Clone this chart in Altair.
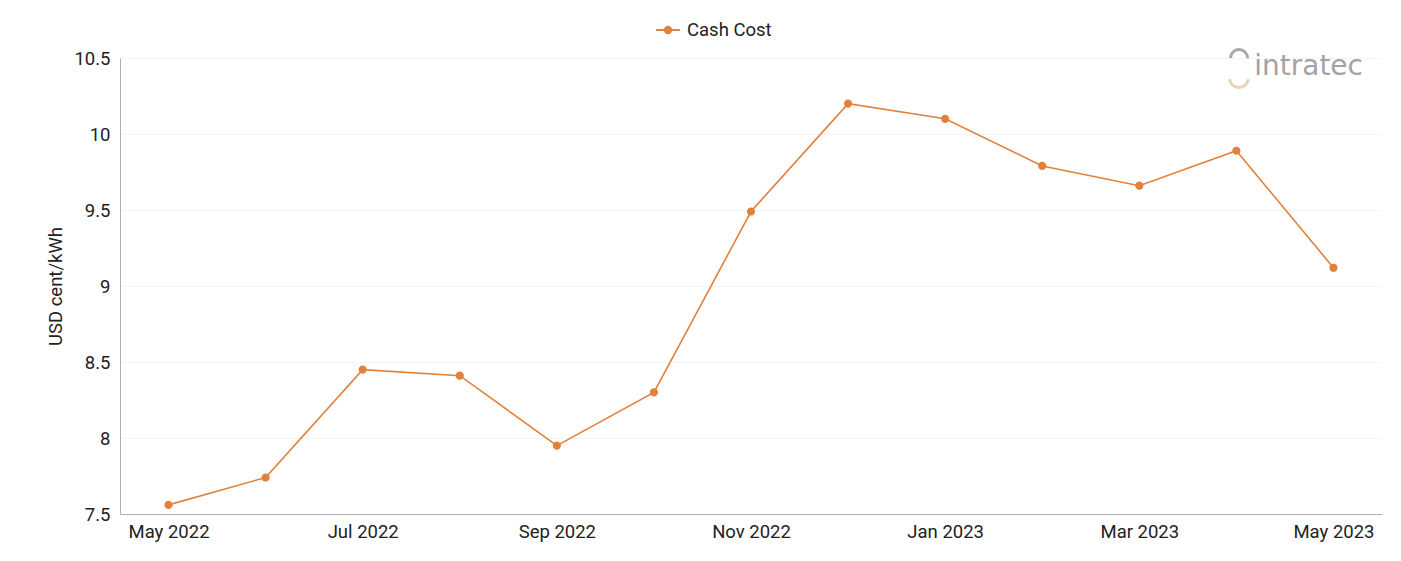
import altair as alt
import pandas as pd

months = ["May 2022", "Jun 2022", "Jul 2022", "Aug 2022", "Sep 2022", "Oct 2022",
          "Nov 2022", "Dec 2022", "Jan 2023", "Feb 2023", "Mar 2023", "Apr 2023", "May 2023"]
cash_cost = [7.56, 7.74, 8.45, 8.41, 7.95, 8.30, 9.49, 10.20, 10.10, 9.79, 9.66, 9.89, 9.12]
tick_labels = ["May 2022", "Jul 2022", "Sep 2022", "Nov 2022", "Jan 2023", "Mar 2023", "May 2023"]
y_ticks = [7.5, 8, 8.5, 9, 9.5, 10, 10.5]
series = ["Cash Cost"] * len(months)

df = pd.DataFrame({"month": months, "value": cash_cost, "series": series})

ORANGE = "#E3813B"
FONT = "Roboto"
FS = 18.5

line = alt.Chart(df).mark_line(
    color=ORANGE, strokeWidth=1.6,
    point=alt.OverlayMarkDef(color=ORANGE, filled=True, size=38, opacity=1),
).encode(
    x=alt.X("month:O", sort=months,
            scale=alt.Scale(type="point", padding=0.5),
            axis=alt.Axis(values=tick_labels, title=None, labelAngle=0,
                          labelFontSize=FS, labelColor="#222", labelPadding=8,
                          ticks=False, domainColor="#b0b0b0", grid=False,
                          labelFont=FONT)),
    y=alt.Y("value:Q",
            scale=alt.Scale(domain=[7.5, 10.5], nice=False, zero=False),
            axis=alt.Axis(values=y_ticks, title="USD cent/kWh",
                          labelExpr="datum.value + ''",
                          titleFontSize=FS, titleFontWeight="normal", titleColor="#222",
                          titleFont=FONT, titlePadding=8,
                          labelFontSize=FS, labelColor="#222", labelFont=FONT,
                          labelPadding=10, ticks=False, domainColor="#b0b0b0",
                          grid=True, gridColor="#f4f4f4")),
    stroke=alt.Stroke("series:N", scale=alt.Scale(range=[ORANGE]),
                      legend=alt.Legend(title=None, orient="none", legendX=535, legendY=-41,
                                        labelFontSize=FS, labelFont=FONT, labelColor="#222",
                                        labelOffset=6,
                                        symbolType="M-1,0L1,0M-0.28,0A0.28,0.28 0 1,1 0.28,0A0.28,0.28 0 1,1 -0.28,0",
                                        symbolFillColor=ORANGE, symbolStrokeColor=ORANGE,
                                        symbolStrokeWidth=1.8, symbolSize=560)),
)

logo_df = pd.DataFrame({"t": ["intratec"]})
logo = alt.Chart(logo_df).mark_text(
    font="DejaVu Sans", fontSize=28, fontWeight="normal", color="#a3a3a3",
    align="right", baseline="middle"
).encode(text="t:N", x=alt.value(1243), y=alt.value(9))

arc_df = pd.DataFrame({"k": ["logo"]})
logo_arc = alt.Chart(arc_df).mark_arc(
    radius=11, radius2=8, theta=1.7, theta2=4.6, color="#ecd2b5"
).encode(x=alt.value(1119), y=alt.value(20))
logo_arc_top = alt.Chart(arc_df).mark_arc(
    radius=10, radius2=7, theta=4.7, theta2=7.9, color="#a8a8a8"
).encode(x=alt.value(1119), y=alt.value(0))

chart = alt.layer(line, logo, logo_arc, logo_arc_top).properties(
    width=1262, height=456,
    autosize=alt.AutoSizeParams(type="none"),
    padding={"left": 120, "top": 58, "right": 19, "bottom": 47},
    background="white",
).configure_view(stroke=None)

chart.save("out.html", embed_options={"renderer": "svg", "actions": False})
